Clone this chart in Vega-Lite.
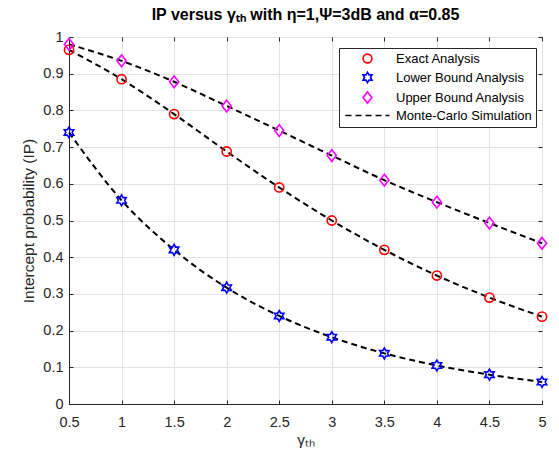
{
  "$schema": "https://vega.github.io/schema/vega-lite/v6.json",
  "width": 473,
  "height": 367,
  "autosize": {"type": "none"},
  "padding": {"left": 69, "top": 37, "right": 17, "bottom": 50},
  "background": "white",
  "config": {
    "font": "Liberation Sans",
    "view": {"stroke": "#262626", "strokeWidth": 1},
    "axis": {
      "labelFont": "Liberation Sans",
      "titleFont": "Liberation Sans",
      "labelColor": "#262626",
      "titleColor": "#262626",
      "labelFontSize": 14.5,
      "titleFontSize": 15.5,
      "titleFontWeight": "normal",
      "domainColor": "#262626",
      "tickColor": "#262626",
      "gridColor": "#e3e3e3",
      "gridWidth": 1
    }
  },
  "title": {
    "text": "IP versus γₜₕ with η=1,Ψ=3dB and α=0.85",
    "font": "Liberation Sans",
    "fontSize": 16,
    "fontWeight": "bold",
    "color": "#000000",
    "offset": 6
  },
  "data": {
    "values": [
      {"g": 0.5, "ip": 0.965, "series": "Exact Analysis"},
      {"g": 1.0, "ip": 0.885, "series": "Exact Analysis"},
      {"g": 1.5, "ip": 0.790, "series": "Exact Analysis"},
      {"g": 2.0, "ip": 0.688, "series": "Exact Analysis"},
      {"g": 2.5, "ip": 0.590, "series": "Exact Analysis"},
      {"g": 3.0, "ip": 0.500, "series": "Exact Analysis"},
      {"g": 3.5, "ip": 0.420, "series": "Exact Analysis"},
      {"g": 4.0, "ip": 0.350, "series": "Exact Analysis"},
      {"g": 4.5, "ip": 0.290, "series": "Exact Analysis"},
      {"g": 5.0, "ip": 0.238, "series": "Exact Analysis"},
      {"g": 0.5, "ip": 0.740, "series": "Lower Bound Analysis"},
      {"g": 1.0, "ip": 0.555, "series": "Lower Bound Analysis"},
      {"g": 1.5, "ip": 0.420, "series": "Lower Bound Analysis"},
      {"g": 2.0, "ip": 0.317, "series": "Lower Bound Analysis"},
      {"g": 2.5, "ip": 0.240, "series": "Lower Bound Analysis"},
      {"g": 3.0, "ip": 0.182, "series": "Lower Bound Analysis"},
      {"g": 3.5, "ip": 0.138, "series": "Lower Bound Analysis"},
      {"g": 4.0, "ip": 0.105, "series": "Lower Bound Analysis"},
      {"g": 4.5, "ip": 0.080, "series": "Lower Bound Analysis"},
      {"g": 5.0, "ip": 0.060, "series": "Lower Bound Analysis"},
      {"g": 0.5, "ip": 0.980, "series": "Upper Bound Analysis"},
      {"g": 1.0, "ip": 0.935, "series": "Upper Bound Analysis"},
      {"g": 1.5, "ip": 0.878, "series": "Upper Bound Analysis"},
      {"g": 2.0, "ip": 0.812, "series": "Upper Bound Analysis"},
      {"g": 2.5, "ip": 0.745, "series": "Upper Bound Analysis"},
      {"g": 3.0, "ip": 0.677, "series": "Upper Bound Analysis"},
      {"g": 3.5, "ip": 0.610, "series": "Upper Bound Analysis"},
      {"g": 4.0, "ip": 0.550, "series": "Upper Bound Analysis"},
      {"g": 4.5, "ip": 0.493, "series": "Upper Bound Analysis"},
      {"g": 5.0, "ip": 0.438, "series": "Upper Bound Analysis"}
    ]
  },
  "resolve": {"axis": {"x": "independent", "y": "independent"}},
  "layer": [
    {
      "mark": {"type": "line", "interpolate": "monotone", "color": "black", "strokeWidth": 2, "strokeDash": [6, 4]},
      "encoding": {
        "x": {
          "field": "g", "type": "quantitative",
          "scale": {"domain": [0.5, 5], "nice": false, "zero": false},
          "axis": {
            "orient": "bottom",
            "title": "γₜₕ",
            "values": [0.5, 1, 1.5, 2, 2.5, 3, 3.5, 4, 4.5, 5],
            "format": "~g",
            "tickSize": -4,
            "labelPadding": 15,
            "titlePadding": 4,
            "labelFlush": false
          }
        },
        "y": {
          "field": "ip", "type": "quantitative",
          "scale": {"domain": [0, 1], "nice": false},
          "axis": {
            "orient": "left",
            "title": "Intercept probability (IP)",
            "values": [0, 0.1, 0.2, 0.3, 0.4, 0.5, 0.6, 0.7, 0.8, 0.9, 1],
            "format": "~g",
            "tickSize": -4,
            "labelPadding": 10,
            "titlePadding": 6,
            "labelFlush": false
          }
        },
        "detail": {"field": "series"}
      }
    },
    {
      "mark": {"type": "point", "filled": false, "strokeWidth": 1.6, "size": 70, "opacity": 1},
      "encoding": {
        "x": {
          "field": "g", "type": "quantitative",
          "axis": {
            "orient": "top", "title": null, "labels": false, "grid": false, "domain": false,
            "values": [0.5, 1, 1.5, 2, 2.5, 3, 3.5, 4, 4.5, 5],
            "tickSize": -4
          }
        },
        "y": {
          "field": "ip", "type": "quantitative",
          "axis": {
            "orient": "right", "title": null, "labels": false, "grid": false, "domain": false,
            "values": [0, 0.1, 0.2, 0.3, 0.4, 0.5, 0.6, 0.7, 0.8, 0.9, 1],
            "tickSize": -4
          }
        },
        "color": {
          "field": "series", "type": "nominal",
          "scale": {
            "domain": ["Exact Analysis", "Lower Bound Analysis", "Upper Bound Analysis", "Monte-Carlo Simulation"],
            "range": ["#ff0000", "#0000ff", "#ff00ff", "#000000"]
          },
          "legend": {
            "title": null,
            "orient": "none",
            "legendX": 270,
            "legendY": 11,
            "direction": "vertical",
            "strokeColor": "#262626",
            "fillColor": "white",
            "padding": 4,
            "rowPadding": 2,
            "symbolSize": 64,
            "symbolStrokeWidth": 1.6,
            "symbolOffset": 18,
            "labelOffset": 22,
            "labelFontSize": 13,
            "labelColor": "#000000",
            "labelFont": "Liberation Sans",
            "labelLimit": 300,
            "labelExpr": "datum.label == 'Monte-Carlo Simulation' ? datum.label + '\u00a0\u00a0\u00a0\u00a0' : datum.label"
          }
        },
        "shape": {
          "field": "series", "type": "nominal",
          "scale": {
            "domain": ["Exact Analysis", "Lower Bound Analysis", "Upper Bound Analysis", "Monte-Carlo Simulation"],
            "range": [
              "M1.1,0A1.1,1.1,0,1,1,-1.1,0A1.1,1.1,0,1,1,1.1,0Z",
              "M0,-1.3L0.375,-0.65L1.126,-0.65L0.75,0L1.126,0.65L0.375,0.65L0,1.3L-0.375,0.65L-1.126,0.65L-0.75,0L-1.126,-0.65L-0.375,-0.65Z",
              "M0,-1.4L1.1,0L0,1.4L-1.1,0Z",
              "M-5.5,0H-4M-3,0H-1.5M-0.5,0H1M2,0H3.5M4.5,0H5.5"
            ]
          }
        }
      }
    }
  ]
}
